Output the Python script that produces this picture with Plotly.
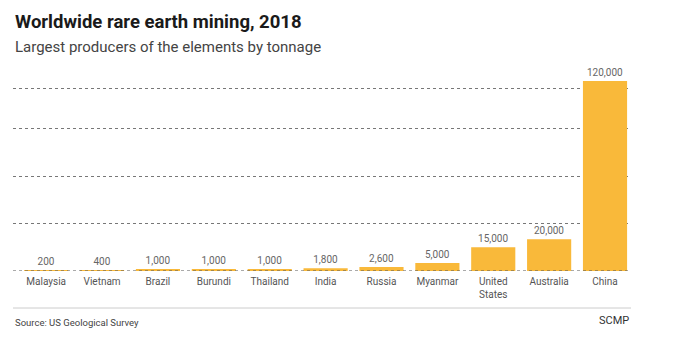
import plotly.graph_objects as go

countries = ["Malaysia", "Vietnam", "Brazil", "Burundi", "Thailand", "India",
             "Russia", "Myanmar", "United<br>States", "Australia", "China"]
tonnage = [200, 400, 1000, 1000, 1000, 1800, 2600, 5000, 15000, 20000, 120000]
labels = ["200", "400", "1,000", "1,000", "1,000", "1,800", "2,600", "5,000",
          "15,000", "20,000", "120,000"]
grid_vals = [30000, 60000, 90000, 115000]

W, H = 674, 345
FONT = "Roboto, Arial, sans-serif"
TOP, BOTTOM = 81, 271

fig = go.Figure()
fig.add_trace(go.Bar(
    x=list(range(len(countries))), y=tonnage,
    marker=dict(color="#F9B93A", line=dict(width=0)),
    text=labels, textposition="outside", cliponaxis=False,
    textfont=dict(family=FONT, size=10, color="#666"),
    hoverinfo="skip",
))

fig.update_layout(
    width=W, height=H,
    margin=dict(l=13, r=43, t=TOP, b=H - BOTTOM),
    paper_bgcolor="white", plot_bgcolor="white",
    showlegend=False, bargap=0.21,
    font=dict(family=FONT),
    xaxis=dict(
        tickmode="array", tickvals=list(range(len(countries))), ticktext=countries,
        range=[-0.594, 10.465], showgrid=False, zeroline=False, showline=False,
        ticks="", tickfont=dict(family=FONT, size=10, color="#555"),
        ticklabelstandoff=3, fixedrange=True,
    ),
    yaxis=dict(
        range=[0, 120000], tickvals=grid_vals, showticklabels=False,
        showgrid=True, gridcolor="#777", griddash="dot", gridwidth=1,
        zeroline=False, showline=False, fixedrange=True,
    ),
)


def px_y(y):
    return (BOTTOM - y) / (BOTTOM - TOP)


fig.add_shape(type="line", xref="paper", yref="y", x0=0, x1=1, y0=0, y1=0,
              line=dict(color="#555", width=1, dash="dot"), layer="above")
fig.add_annotation(text="<b>Worldwide rare earth mining, 2018</b>", xref="paper", yref="paper",
                   x=0, xanchor="left", y=px_y(22), yanchor="middle", showarrow=False,
                   font=dict(family=FONT, size=18.5, color="#1a1a1a"))
fig.add_annotation(text="Largest producers of the elements by tonnage", xref="paper", yref="paper",
                   x=0, xanchor="left", y=px_y(47), yanchor="middle", showarrow=False,
                   font=dict(family=FONT, size=15, color="#444"))
fig.add_annotation(text="Source: US Geological Survey", xref="paper", yref="paper",
                   x=0, xanchor="left", y=px_y(322), yanchor="middle", showarrow=False,
                   font=dict(family=FONT, size=9.5, color="#444"))
fig.add_annotation(text="SCMP", xref="paper", yref="paper",
                   x=1, xanchor="right", y=px_y(320), yanchor="middle", showarrow=False,
                   font=dict(family=FONT, size=11, color="#333"))
fig.add_shape(type="line", xref="paper", yref="paper", x0=0, x1=1,
              y0=px_y(308), y1=px_y(308), line=dict(color="#ccc", width=1))

fig.write_html("out.html")
